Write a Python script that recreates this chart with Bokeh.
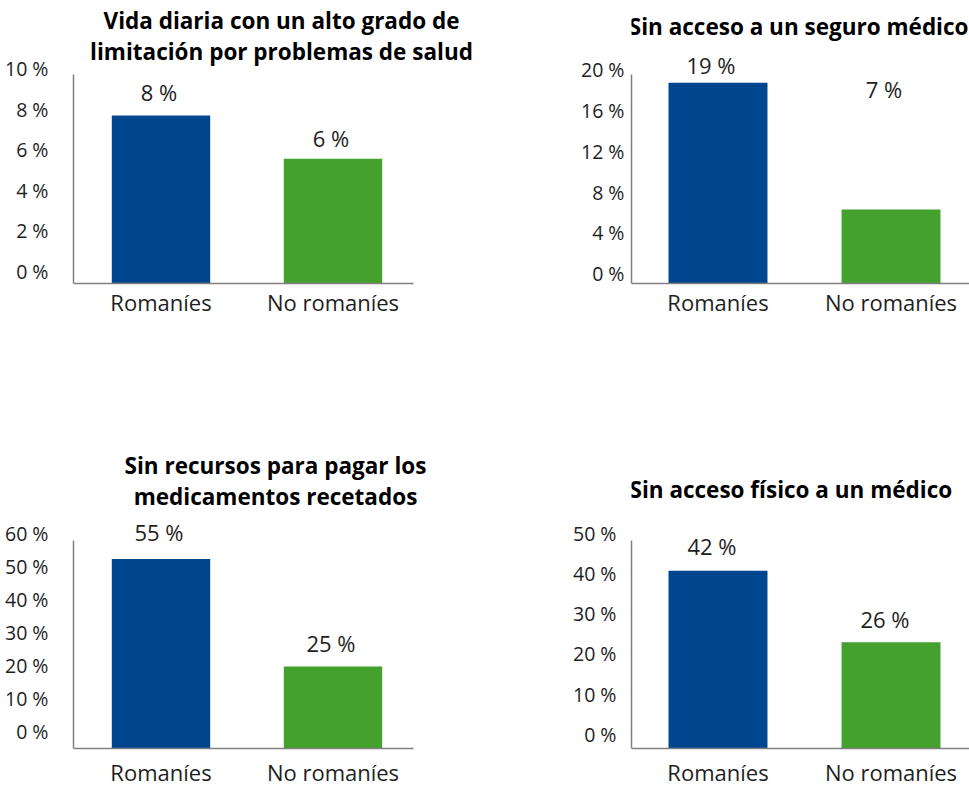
from bokeh.plotting import figure
from bokeh.models import (Range1d, LinearAxis, FixedTicker, PrintfTickFormatter,
                          Label, ColumnDataSource)
from bokeh.layouts import column, row
from bokeh.embed import file_html
from bokeh.resources import INLINE
from bokeh.core.properties import value

# ---------------- data ----------------
categories = ["Romaníes", "No romaníes"]
bar_colors = ["#00468f", "#45a12e"]

vida_title = ["Vida diaria con un alto grado de", "limitación por problemas de salud"]
vida_values = [7.70, 5.56]
vida_labels = ["8 %", "6 %"]
vida_ticks = [0, 2, 4, 6, 8, 10]

seguro_title = ["Sin acceso a un seguro médico"]
seguro_values = [18.71, 6.30]
seguro_labels = ["19 %", "7 %"]
seguro_ticks = [0, 4, 8, 12, 16, 20]

recursos_title = ["Sin recursos para pagar los", "medicamentos recetados"]
recursos_values = [52.2, 19.6]
recursos_labels = ["55 %", "25 %"]
recursos_ticks = [0, 10, 20, 30, 40, 50, 60]

fisico_title = ["Sin acceso físico a un médico"]
fisico_values = [40.7, 22.9]
fisico_labels = ["42 %", "26 %"]
fisico_ticks = [0, 10, 20, 30, 40, 50]

# ---------------- style ----------------
FONT = "Open Sans"
TEXT = "#1e1e1e"
AXIS = "#808080"
TITLE_SIZE = "22.5px"


def panel(title_lines, values, labels, ticks, st):
    # pixel geometry of this panel (page pixels) -> data ranges
    top0, H, W = st["row_top"], st["h"], st["w"]
    fig_left, fl = st["fig_left"], st["frame_left"]

    def yv(px):
        return (st["zero"] - px) / st["s"]

    def xv(px):
        return 0.5 + (px - st["c0"]) / st["unit"]

    y_start, y_end = yv(top0 + H), yv(top0)
    base, ytop = yv(st["base"]), yv(st["axis_top"])
    x_start, x_end = xv(fl), xv(fig_left + W)

    xs = [i + 0.5 for i in range(len(categories))]
    p = figure(width=W, height=H, output_backend="svg", toolbar_location=None,
               x_range=Range1d(x_start, x_end), y_range=Range1d(y_start, y_end),
               min_border_left=fl - fig_left, min_border_right=0,
               min_border_top=0, min_border_bottom=0)
    p.grid.visible = False
    p.outline_line_color = None
    p.background_fill_color = "white"
    p.border_fill_color = "white"

    src = ColumnDataSource(dict(x=xs, top=values, color=bar_colors, label=labels,
                                lift=[-v for v in st["lift"]]))
    p.vbar(x="x", top="top", bottom=base, width=0.572, fill_color="color",
           line_color=None, source=src)
    p.text(x="x", y="top", text="label", x_offset=st["dx"], y_offset="lift",
           text_align="center", text_baseline="middle", text_font=value(FONT),
           text_font_size="22px", text_color=TEXT, source=src)

    # x axis (categories), drawn at the base line
    xa = p.xaxis[0]
    xa.fixed_location = base
    xa.ticker = FixedTicker(ticks=xs)
    xa.major_label_overrides = {x: c for x, c in zip(xs, categories)}
    xa.bounds = (x_start, xv(st["axis_end"]))
    xa.axis_line_color = AXIS
    xa.axis_line_width = 1.5
    xa.major_tick_line_color = None
    xa.minor_tick_line_color = None
    xa.major_tick_in = 0
    xa.major_tick_out = 0
    xa.major_label_standoff = st["cs"]
    xa.major_label_text_font = FONT
    xa.major_label_text_font_size = "22px"
    xa.major_label_text_color = TEXT

    # y axis line only (bounded)
    ya = p.yaxis[0]
    ya.ticker = FixedTicker(ticks=[])
    ya.bounds = (base, ytop)
    ya.axis_line_color = AXIS
    ya.axis_line_width = 1.5
    ya.major_tick_line_color = None
    ya.minor_tick_line_color = None
    ya.major_tick_in = 0
    ya.major_tick_out = 0
    ya.major_label_standoff = 0
    ya.major_label_text_font_size = "0px"

    # y tick labels
    lab = LinearAxis(ticker=FixedTicker(ticks=ticks),
                     formatter=PrintfTickFormatter(format="%d %%"),
                     axis_line_color=None, major_tick_line_color=None,
                     minor_tick_line_color=None, major_tick_in=0, major_tick_out=0,
                     major_label_standoff=st["ts"],
                     major_label_text_font=FONT, major_label_text_font_size="19.5px",
                     major_label_text_color=TEXT)
    p.add_layout(lab, "left")

    # title lines (vertically centred on the given pixel rows)
    for line, c_px in zip(title_lines, st["title_mid"]):
        p.add_layout(Label(x=xv(st["title_x"]), y=yv(c_px), text=line,
                           text_font=FONT, text_font_style="bold",
                           text_font_size=TITLE_SIZE, text_color="black",
                           text_align=st["title_align"], text_baseline="middle"))
    return p


p1 = panel(vida_title, vida_values, vida_labels, vida_ticks,
           dict(row_top=0, h=395, w=489, fig_left=0, frame_left=73, c0=160.5, unit=172,
                axis_end=413, zero=271, s=20.27, base=283, axis_top=74.3, ts=25, cs=3,
                lift=[23.5, 20.3], dx=-2, title_x=281, title_align="center",
                title_mid=[20, 51]))
p2 = panel(seguro_title, seguro_values, seguro_labels, seguro_ticks,
           dict(row_top=0, h=395, w=480, fig_left=489, frame_left=631, c0=717.5, unit=173,
                axis_end=969, zero=273.3, s=10.21, base=283, axis_top=74.3, ts=7, cs=3,
                lift=[17.3, 120.5], dx=-7, title_x=628.3, title_align="left",
                title_mid=[25.7]))
p3 = panel(recursos_title, recursos_values, recursos_labels, recursos_ticks,
           dict(row_top=395, h=390, w=477, fig_left=0, frame_left=73, c0=160.5, unit=172,
                axis_end=413, zero=730.7, s=3.3, base=748, axis_top=540, ts=25, cs=8,
                lift=[26.8, 23.7], dx=-2, title_x=275, title_align="center",
                title_mid=[464.7, 495.7]))
p4 = panel(fisico_title, fisico_values, fisico_labels, fisico_ticks,
           dict(row_top=395, h=390, w=492, fig_left=477, frame_left=631, c0=717.5, unit=173,
                axis_end=969, zero=734, s=4.026, base=748, axis_top=540, ts=15, cs=8,
                lift=[25, 23], dx=-6, title_x=629, title_align="left",
                title_mid=[489]))

layout = column(row(p1, p2), row(p3, p4))
open("out.html", "w").write(file_html(layout, INLINE))
